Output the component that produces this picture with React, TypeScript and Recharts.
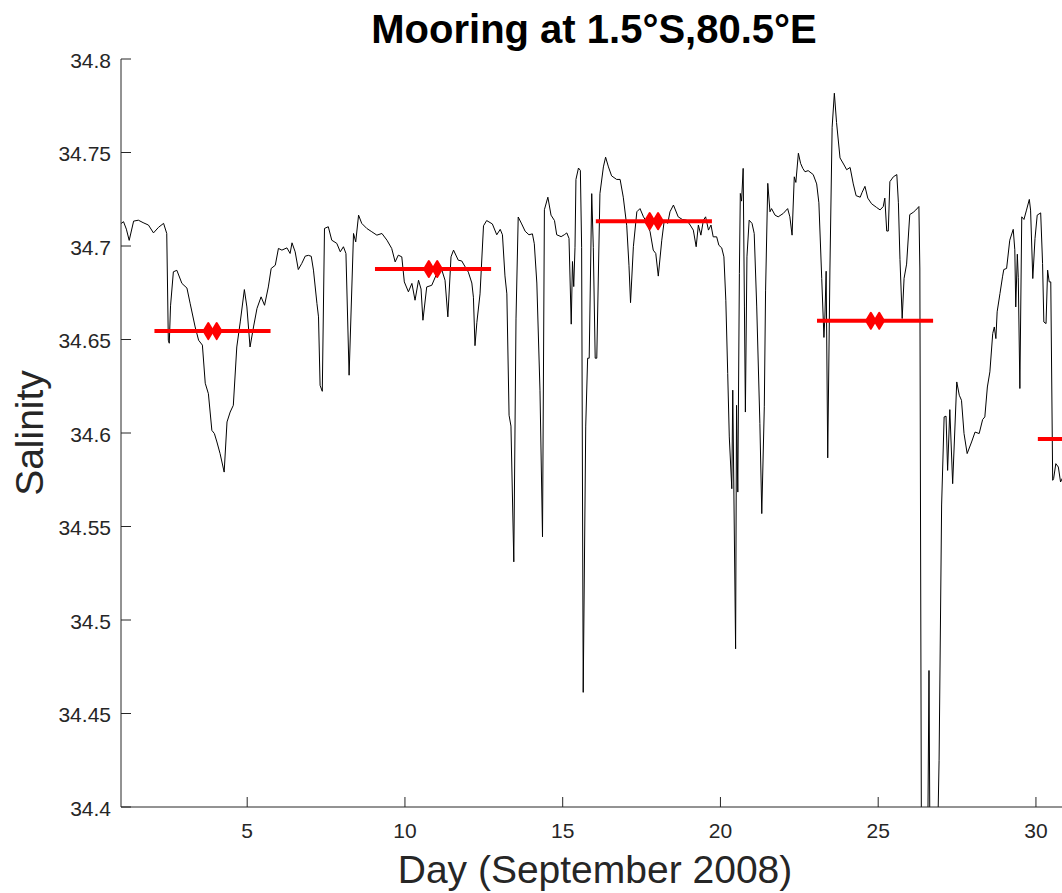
import React from 'react';
import { ComposedChart, Line, Scatter, XAxis, YAxis } from 'recharts';

const AXIS = '#262626';
const FONT = '"Liberation Sans", Arial, Helvetica, sans-serif';

const dayTicks = [5, 10, 15, 20, 25, 30];
const salinityTicks = [34.4, 34.45, 34.5, 34.55, 34.6, 34.65, 34.7, 34.75, 34.8];

const sep01to06: [number, number][] = [
  [1.0, 34.712], [1.08, 34.713], [1.17, 34.709], [1.26, 34.703], [1.4, 34.7133], [1.55, 34.7138],
  [1.7, 34.7125], [1.87, 34.7112], [2.03, 34.707], [2.19, 34.71], [2.35, 34.7121], [2.45, 34.7067],
  [2.5, 34.6496], [2.53, 34.648], [2.57, 34.668], [2.66, 34.6862], [2.77, 34.687], [2.93, 34.68],
  [3.09, 34.6775], [3.19, 34.6694], [3.35, 34.6567], [3.46, 34.6496], [3.58, 34.647], [3.67, 34.6266],
  [3.77, 34.621], [3.88, 34.6014], [3.96, 34.5997], [4.04, 34.5952], [4.14, 34.589], [4.27, 34.5791],
  [4.36, 34.6059], [4.46, 34.6112], [4.56, 34.6148], [4.67, 34.646], [4.78, 34.6594], [4.91, 34.6767],
  [4.99, 34.6674], [5.09, 34.646], [5.2, 34.6567], [5.31, 34.6666], [5.44, 34.6728], [5.55, 34.6683],
  [5.67, 34.6781], [5.76, 34.688], [5.89, 34.6897], [5.99, 34.6987], [6.1, 34.6978], [6.26, 34.699],
  [6.36, 34.696], [6.42, 34.7017], [6.52, 34.6969],
];

const sep06to12: [number, number][] = [
  [6.62, 34.6874], [6.73, 34.6907], [6.84, 34.6946], [6.94, 34.695], [7.03, 34.6945], [7.1, 34.6871],
  [7.21, 34.6693], [7.26, 34.6621], [7.31, 34.6255], [7.38, 34.6223], [7.45, 34.7094], [7.57, 34.7103],
  [7.68, 34.7031], [7.84, 34.7014], [7.95, 34.6969], [8.05, 34.6996], [8.13, 34.696], [8.23, 34.6309],
  [8.37, 34.7067], [8.44, 34.7022], [8.53, 34.7165], [8.63, 34.7121], [8.79, 34.7094], [8.95, 34.7076],
  [9.11, 34.7058], [9.27, 34.7067], [9.43, 34.7031], [9.58, 34.6987], [9.69, 34.6915], [9.79, 34.6951],
  [9.9, 34.6942], [9.98, 34.6808], [10.11, 34.6755], [10.22, 34.68], [10.32, 34.671], [10.43, 34.6817],
  [10.51, 34.677], [10.57, 34.6603], [10.69, 34.6781], [10.85, 34.679], [11.01, 34.6853], [11.17, 34.6871],
  [11.27, 34.6817], [11.36, 34.6621], [11.46, 34.6942], [11.54, 34.6978], [11.69, 34.6924], [11.8, 34.692],
  [11.91, 34.6888],
];

const sep12to17: [number, number][] = [
  [12.01, 34.686], [12.12, 34.6802], [12.17, 34.6726], [12.22, 34.6467], [12.28, 34.6592], [12.38, 34.6744],
  [12.49, 34.7108], [12.59, 34.7136], [12.77, 34.7118], [12.91, 34.706], [13.02, 34.7089], [13.09, 34.706],
  [13.17, 34.684], [13.23, 34.6744], [13.3, 34.6095], [13.36, 34.6037], [13.45, 34.5311], [13.52, 34.661],
  [13.59, 34.7155], [13.7, 34.7118], [13.81, 34.7079], [13.93, 34.706], [14.04, 34.7065], [14.1, 34.7012],
  [14.18, 34.6802], [14.28, 34.6229], [14.36, 34.5445], [14.42, 34.7194], [14.53, 34.7261], [14.63, 34.7165],
  [14.74, 34.7136], [14.81, 34.706], [14.95, 34.705], [15.05, 34.706], [15.13, 34.707], [15.2, 34.7041],
  [15.27, 34.6582], [15.31, 34.6917], [15.35, 34.6783], [15.39, 34.6993], [15.42, 34.7356], [15.5, 34.7417],
  [15.56, 34.7404], [15.6, 34.6993], [15.65, 34.4613], [15.73, 34.6037], [15.79, 34.64], [15.84, 34.64],
  [15.92, 34.728], [15.97, 34.6993], [16.03, 34.64], [16.08, 34.64], [16.18, 34.728], [16.29, 34.7423],
  [16.36, 34.7475], [16.45, 34.7423], [16.55, 34.7375], [16.71, 34.7356], [16.82, 34.7356], [16.92, 34.7261],
  [17.03, 34.7108], [17.1, 34.6897], [17.15, 34.6697], [17.24, 34.6996],
];

const sep17to22: [number, number][] = [
  [17.35, 34.7183], [17.45, 34.72], [17.56, 34.7156], [17.66, 34.7129], [17.77, 34.7076], [17.87, 34.6978],
  [17.95, 34.696], [18.03, 34.6839], [18.14, 34.7031], [18.22, 34.7138], [18.33, 34.7121], [18.4, 34.7183],
  [18.51, 34.7219], [18.66, 34.7156], [18.79, 34.7142], [18.93, 34.7138], [19.04, 34.7112], [19.14, 34.7085],
  [19.23, 34.6996], [19.3, 34.7112], [19.38, 34.7058], [19.46, 34.7138], [19.53, 34.7156], [19.62, 34.7085],
  [19.7, 34.7112], [19.77, 34.7049], [19.88, 34.7049], [19.95, 34.7004], [20.04, 34.699], [20.11, 34.6942],
  [20.17, 34.671], [20.23, 34.6318], [20.28, 34.5979], [20.36, 34.5702], [20.39, 34.6229], [20.48, 34.4846],
  [20.51, 34.6148], [20.55, 34.5684], [20.6, 34.6853], [20.63, 34.7281], [20.67, 34.724], [20.72, 34.7415],
  [20.76, 34.6674], [20.79, 34.6112], [20.84, 34.6942], [20.91, 34.7138], [21.0, 34.7121], [21.07, 34.7067],
  [21.15, 34.6674], [21.25, 34.605], [21.31, 34.5569], [21.39, 34.614], [21.43, 34.676], [21.5, 34.7335],
  [21.57, 34.7183], [21.62, 34.72], [21.73, 34.7165], [21.83, 34.7156], [21.99, 34.7174], [22.13, 34.72],
  [22.2, 34.7156], [22.27, 34.7058], [22.34, 34.737], [22.39, 34.734], [22.47, 34.7496], [22.54, 34.7442],
  [22.61, 34.7415], [22.68, 34.7397],
];

const sep22to27: [number, number][] = [
  [22.78, 34.7403], [22.94, 34.7382], [23.05, 34.7332], [23.12, 34.7231], [23.21, 34.6827], [23.28, 34.6511],
  [23.31, 34.662], [23.35, 34.6865], [23.4, 34.5867], [23.47, 34.6877], [23.54, 34.7635], [23.61, 34.7817],
  [23.68, 34.766], [23.79, 34.7471], [23.92, 34.7433], [24.0, 34.7408], [24.11, 34.742], [24.21, 34.7332],
  [24.3, 34.7269], [24.43, 34.7261], [24.49, 34.7287], [24.58, 34.7319], [24.67, 34.7256], [24.79, 34.7226],
  [24.95, 34.7206], [25.06, 34.7193], [25.16, 34.7211], [25.21, 34.7256], [25.27, 34.708], [25.32, 34.708],
  [25.37, 34.7344], [25.48, 34.737], [25.59, 34.7382], [25.64, 34.7231], [25.69, 34.6928], [25.76, 34.6612],
  [25.82, 34.6827], [25.9, 34.6903], [26.0, 34.7168], [26.11, 34.718], [26.19, 34.7192], [26.29, 34.7211],
  [26.32, 34.6877], [26.37, 34.38], [26.48, 34.37], [26.57, 34.38], [26.61, 34.473], [26.64, 34.38],
  [26.76, 34.37], [26.88, 34.38], [26.93, 34.425], [27.01, 34.5615], [27.09, 34.6086],
];

const sep27to31: [number, number][] = [
  [27.15, 34.609], [27.2, 34.58], [27.27, 34.6125], [27.36, 34.5729], [27.49, 34.6273], [27.57, 34.6202],
  [27.64, 34.6175], [27.72, 34.5997], [27.82, 34.589], [27.96, 34.5952], [28.07, 34.6005], [28.2, 34.5997],
  [28.31, 34.6072], [28.38, 34.6086], [28.46, 34.6246], [28.54, 34.6327], [28.63, 34.6532], [28.68, 34.6567],
  [28.73, 34.6505], [28.77, 34.6648], [28.86, 34.6746], [28.94, 34.6835], [28.98, 34.6874], [29.07, 34.688],
  [29.17, 34.7031], [29.28, 34.7089], [29.33, 34.698], [29.36, 34.6674], [29.41, 34.6956], [29.44, 34.683],
  [29.49, 34.6238], [29.55, 34.7156], [29.62, 34.7142], [29.7, 34.7192], [29.79, 34.7249], [29.83, 34.7192],
  [29.9, 34.6826], [29.97, 34.704], [30.04, 34.7165], [30.15, 34.7177], [30.21, 34.6906], [30.25, 34.6594],
  [30.32, 34.6585], [30.37, 34.6871], [30.42, 34.6808], [30.47, 34.6808], [30.53, 34.5747], [30.56, 34.5756],
  [30.63, 34.5836], [30.71, 34.5818], [30.78, 34.5738], [30.9, 34.578], [31.0, 34.576],
];

// weekly means, drawn as a bar spanning the week with a marker at its centre
const weekCentres = [3.9, 10.89, 17.89, 24.9, 31.9];
const weekMeans = [34.6545, 34.6877, 34.7133, 34.66, 34.5968];
const weekHalfSpan = 1.84;

const record = [...sep01to06, ...sep06to12, ...sep12to17, ...sep17to22, ...sep22to27, ...sep27to31].map(
  ([day, sal]) => ({ day, sal })
);
const weekBars = weekCentres.map((c, i) => [
  { day: c - weekHalfSpan, sal: weekMeans[i] },
  { day: c + weekHalfSpan, sal: weekMeans[i] },
]);
const weekPoints = weekCentres.map((c, i) => ({ day: c, sal: weekMeans[i] }));

function BottomTick({ x, y, payload }: any) {
  return (
    <g>
      <line x1={x} y1={y} x2={x} y2={y - 10} stroke={AXIS} />
      <text x={x} y={y + 31} textAnchor="middle" fontSize={21} fill={AXIS}>
        {payload.value}
      </text>
    </g>
  );
}

function TopTick({ x, y }: any) {
  return <line x1={x} y1={y} x2={x} y2={y + 10} stroke={AXIS} />;
}

function LeftTick({ x, y, payload }: any) {
  return (
    <g>
      <line x1={x} y1={y} x2={x + 10} y2={y} stroke={AXIS} />
      <text x={x - 10} y={y + 8.5} textAnchor="end" fontSize={21} fill={AXIS}>
        {String(payload.value)}
      </text>
    </g>
  );
}

function RightTick({ x, y }: any) {
  return <line x1={x} y1={y} x2={x - 10} y2={y} stroke={AXIS} />;
}

function TwinDiamond({ cx, cy }: any) {
  const diamond = (ox: number) => `${ox - 4.8},${cy} ${ox},${cy - 8} ${ox + 4.8},${cy} ${ox},${cy + 8}`;
  return (
    <g fill="#ff0000" stroke="#ff0000" strokeWidth={2} strokeLinejoin="round">
      <polygon points={diamond(cx - 4.2)} />
      <polygon points={diamond(cx + 4.2)} />
    </g>
  );
}

export default function App() {
  return (
    <div
      style={{
        position: 'fixed',
        left: 0,
        top: 0,
        width: 1062,
        height: 893,
        overflow: 'hidden',
        background: '#fff',
        fontFamily: FONT,
      }}
    >
      <ComposedChart width={1080} height={893} margin={{ top: 59, right: 12.5, bottom: 0, left: 0 }}>
        <XAxis
          xAxisId="b"
          type="number"
          dataKey="day"
          domain={[1, 31]}
          ticks={dayTicks}
          interval={0}
          allowDataOverflow
          height={86}
          tickSize={0}
          tickMargin={0}
          tickLine={false}
          tick={BottomTick}
          axisLine={{ stroke: AXIS }}
        />
        <XAxis
          xAxisId="t"
          orientation="top"
          type="number"
          dataKey="day"
          domain={[1, 31]}
          ticks={dayTicks}
          interval={0}
          allowDataOverflow
          height={0}
          tickSize={0}
          tickMargin={0}
          tickLine={false}
          tick={TopTick}
          axisLine={{ stroke: AXIS }}
        />
        <YAxis
          yAxisId="l"
          type="number"
          domain={[34.4, 34.8]}
          ticks={salinityTicks}
          interval={0}
          allowDataOverflow
          width={121}
          tickSize={0}
          tickMargin={0}
          tickLine={false}
          tick={LeftTick}
          axisLine={{ stroke: AXIS }}
        />
        <YAxis
          yAxisId="r"
          orientation="right"
          type="number"
          domain={[34.4, 34.8]}
          ticks={salinityTicks}
          interval={0}
          allowDataOverflow
          width={0}
          tickSize={0}
          tickMargin={0}
          tickLine={false}
          tick={RightTick}
          axisLine={{ stroke: AXIS }}
        />
        <Line
          xAxisId="b"
          yAxisId="l"
          data={record}
          dataKey="sal"
          type="linear"
          stroke="#000"
          strokeWidth={1}
          dot={false}
          isAnimationActive={false}
        />
        {weekBars.map((bar, i) => (
          <Line
            key={i}
            xAxisId="b"
            yAxisId="l"
            data={bar}
            dataKey="sal"
            type="linear"
            stroke="#ff0000"
            strokeWidth={4}
            dot={false}
            isAnimationActive={false}
          />
        ))}
        <Scatter
          xAxisId="b"
          yAxisId="l"
          data={weekPoints}
          dataKey="sal"
          shape={TwinDiamond}
          isAnimationActive={false}
        />
      </ComposedChart>
      <svg
        width={1062}
        height={893}
        style={{ position: 'absolute', left: 0, top: 0, pointerEvents: 'none' }}
      >
        <text x={594} y={43} textAnchor="middle" fontSize={40} fontWeight="bold" fill="#000">
          Mooring at 1.5°S,80.5°E
        </text>
        <text x={595} y={883} textAnchor="middle" fontSize={39} fill={AXIS}>
          Day (September 2008)
        </text>
        <text x={43} y={433} textAnchor="middle" fontSize={39} fill={AXIS} transform="rotate(-90 43 433)">
          Salinity
        </text>
      </svg>
    </div>
  );
}
